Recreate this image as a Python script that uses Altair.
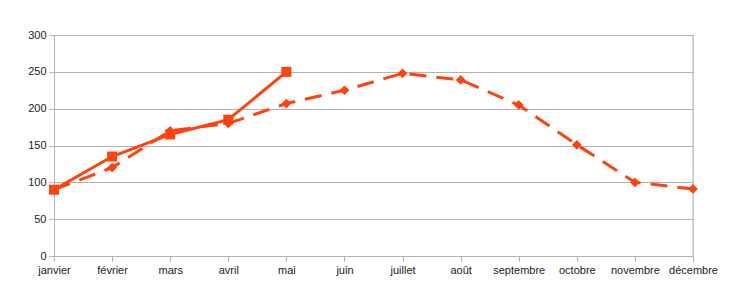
import altair as alt
import pandas as pd

months = ["janvier", "février", "mars", "avril", "mai", "juin", "juillet",
          "août", "septembre", "octobre", "novembre", "décembre"]
series1 = [90, 135, 165, 185, 250]
series2 = [90, 120, 170, 180, 207, 225, 248, 239, 205, 151, 100, 91]

df1 = pd.DataFrame({"mois": months[:len(series1)], "valeur": series1})
df2 = pd.DataFrame({"mois": months, "valeur": series2})

color = "#ff420e"

x = alt.X("mois:N", sort=months, scale=alt.Scale(domain=months, padding=0),
          axis=alt.Axis(title=None, labelAngle=0, grid=False, tickSize=5,
                        tickColor="#b3b3b3", domainColor="#b3b3b3",
                        labelFontSize=11, labelPadding=3, labelColor="#222"))
y = alt.Y("valeur:Q", scale=alt.Scale(domain=[0, 300], nice=False),
          axis=alt.Axis(title=None, values=[0, 50, 100, 150, 200, 250, 300],
                        tickSize=5, tickColor="#b3b3b3", domainColor="#b3b3b3",
                        gridColor="#b3b3b3", labelFontSize=11, labelPadding=3,
                        labelColor="#222"))

line2 = alt.Chart(df2).mark_line(color=color, strokeWidth=3, strokeDash=[17, 10]).encode(x=x, y=y)
pts2 = alt.Chart(df2).mark_point(color=color, shape="diamond", filled=True, size=95, opacity=1).encode(x=x, y=y)
line1 = alt.Chart(df1).mark_line(color=color, strokeWidth=3).encode(x=x, y=y)
pts1 = alt.Chart(df1).mark_point(color=color, shape="square", filled=True, size=100, opacity=1).encode(x=x, y=y)

right_border = alt.Chart(pd.DataFrame({"v": [0]})).mark_rule(color="#b3b3b3").encode(
    x=alt.value(639), y=alt.value(0), y2=alt.value(221))

chart = alt.layer(right_border, line2, pts2, line1, pts1).properties(
    width=639, height=221,
    autosize=alt.AutoSizeParams(type="none"),
    padding={"left": 54, "top": 35, "right": 52, "bottom": 41},
).configure_view(stroke=None).configure_axis(labelFont="Liberation Sans").configure(background="white")

chart.save("out.html", embed_options={"renderer": "svg", "actions": False})
